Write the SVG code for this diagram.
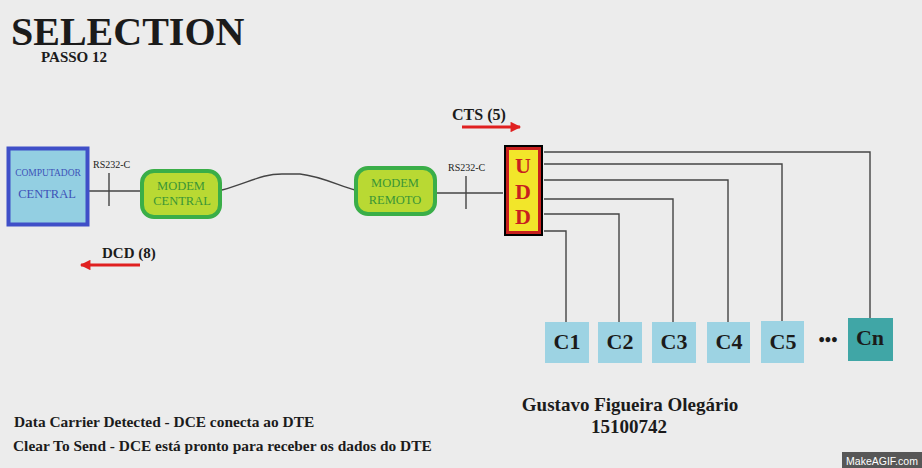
<svg xmlns="http://www.w3.org/2000/svg" width="922" height="468" viewBox="0 0 922 468">
<style>
.t{font-family:"Liberation Serif","Times New Roman",serif;font-weight:bold;fill:#1b1b1b}
.r{font-family:"Liberation Serif","Times New Roman",serif}
.w{stroke:#444;stroke-width:1.4;fill:none}
.modem{fill:#b9d933;stroke:#3aae48;stroke-width:4}
.mt{font-family:"Liberation Serif","Times New Roman",serif;font-size:12.5px;fill:#3a9636;text-anchor:middle}
.c{fill:#9dd3e3}
.cl{font-family:"Liberation Serif","Times New Roman",serif;font-weight:bold;font-size:22px;fill:#1b1b1b;text-anchor:middle}
.rs{font-family:"Liberation Serif","Times New Roman",serif;font-size:10px;fill:#1b1b1b}
.arr{stroke:#e02020;stroke-width:3;fill:none}
</style>
<defs>
<marker id="ah" viewBox="0 0 10 10" refX="9" refY="5" markerWidth="5.5" markerHeight="3.5" orient="auto" markerUnits="strokeWidth"><path d="M0,0 L10,5 L0,10 z" fill="#e02020"/></marker>
</defs>
<rect width="922" height="468" fill="#ececec"/>
<text class="t" x="11" y="45" font-size="40">SELECTION</text>
<text class="t" x="41" y="62" font-size="15">PASSO 12</text>

<g id="connectors">
<line class="w" x1="89" y1="191" x2="141" y2="191"/>
<line class="w" x1="109" y1="173" x2="109" y2="206"/>
<path class="w" d="M222,190 C250,182 262,174 282,174 L300,174 C320,176 340,186 355,190"/>
<line class="w" x1="437" y1="193" x2="503" y2="193"/>
<line class="w" x1="466" y1="176" x2="466" y2="209"/>
<polyline class="w" points="544,152 870,152 870,318"/>
<polyline class="w" points="544,164 782,164 782,321"/>
<polyline class="w" points="544,180 728,180 728,322"/>
<polyline class="w" points="544,199 673,199 673,322"/>
<polyline class="w" points="544,214 619,214 619,322"/>
<polyline class="w" points="544,231 566,231 566,322"/>
<line class="arr" x1="462" y1="127" x2="520" y2="127" marker-end="url(#ah)"/>
<line class="arr" x1="140" y1="265" x2="81" y2="265" marker-end="url(#ah)"/>
</g>
<text class="rs" x="93" y="168">RS232-C</text>
<text class="rs" x="448" y="171">RS232-C</text>
<text class="t" x="452" y="120" font-size="16">CTS (5)</text>
<text class="t" x="102" y="258" font-size="15">DCD (8)</text>

<g id="computador">
<rect x="8.5" y="148.5" width="79" height="76" fill="#93cfe2" stroke="#3f4fc8" stroke-width="4"/>
<text class="r" x="48" y="176" font-size="9.5" fill="#3d52b8" text-anchor="middle">COMPUTADOR</text>
<text class="r" x="47" y="198" font-size="12.5" fill="#3d52b8" text-anchor="middle">CENTRAL</text>
</g>
<g id="modem-central">
<rect class="modem" x="142" y="171" width="78" height="46" rx="12"/>
<text class="mt" x="181" y="190">MODEM</text>
<text class="mt" x="182" y="205">CENTRAL</text>
</g>
<g id="modem-remoto">
<rect class="modem" x="356" y="168" width="79" height="46" rx="12"/>
<text class="mt" x="395" y="187">MODEM</text>
<text class="mt" x="395" y="204">REMOTO</text>
</g>
<g id="udd">
<rect x="504" y="145" width="39" height="91" fill="#000"/>
<rect x="507.5" y="148.5" width="32" height="84" fill="#f2e62a" stroke="#c8201e" stroke-width="3"/>
<g font-family="Liberation Serif,Times New Roman,serif" font-weight="bold" font-size="22" fill="#c8201e" text-anchor="middle">
<text x="523" y="173">U</text>
<text x="523" y="199">D</text>
<text x="523" y="224">D</text>
</g>
</g>
<g id="c1"><rect class="c" x="545" y="322" width="44" height="41"/><text class="cl" x="567" y="349">C1</text></g>
<g id="c2"><rect class="c" x="598" y="322" width="44" height="41"/><text class="cl" x="620" y="349">C2</text></g>
<g id="c3"><rect class="c" x="652" y="322" width="44" height="41"/><text class="cl" x="674" y="349">C3</text></g>
<g id="c4"><rect class="c" x="707" y="322" width="43" height="41"/><text class="cl" x="729" y="349">C4</text></g>
<g id="c5"><rect class="c" x="761" y="321" width="43" height="42"/><text class="cl" x="783" y="349">C5</text></g>
<text class="t" x="828" y="346" font-size="18" text-anchor="middle">•••</text>
<g id="cn"><rect x="848" y="318" width="45" height="43" fill="#40a6a6"/><text class="cl" x="870" y="345">Cn</text></g>

<text class="t" x="14" y="427" font-size="15.4">Data Carrier Detected - DCE conecta ao DTE</text>
<text class="t" x="13" y="451" font-size="15.4">Clear To Send - DCE está pronto para receber os dados do DTE</text>
<text class="t" x="630" y="411" font-size="19" text-anchor="middle">Gustavo Figueira Olegário</text>
<text class="t" x="629" y="433" font-size="19" text-anchor="middle">15100742</text>
<rect x="842" y="452" width="80" height="16" fill="#575757"/>
<text x="882" y="465" font-family="Liberation Sans,Arial,sans-serif" font-size="10.5" fill="#fff" text-anchor="middle">MakeAGIF.com</text>
</svg>
